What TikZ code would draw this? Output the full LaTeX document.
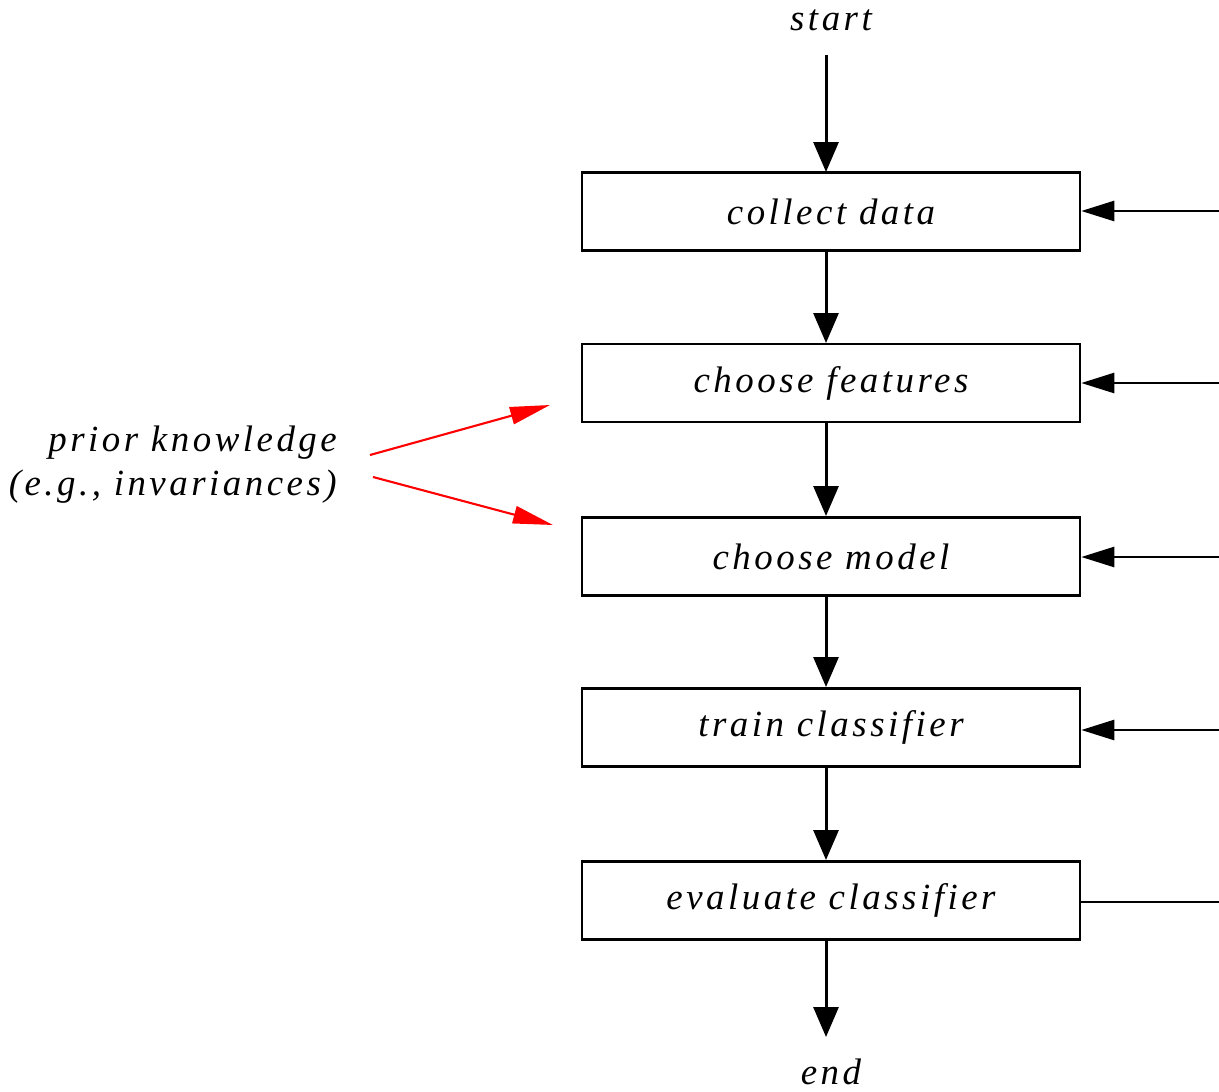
\documentclass[tikz,border=0pt]{standalone}
\usepackage{fontspec}
\setmainfont{Liberation Serif}[LetterSpace=9.5]
\usetikzlibrary{arrows.meta}
\begin{document}
\begin{tikzpicture}[x=0.02cm,y=-0.02cm,
  every node/.style={font=\fontsize{21}{25}\selectfont\itshape},
  stepbox/.style={draw,line width=1.5pt,minimum width=9.96cm,minimum height=1.56cm,inner sep=0pt},
  flow/.style={line width=1.7pt,-{Triangle[length=0.6cm,width=0.5cm]}},
  back/.style={line width=1.5pt,-{Triangle[length=0.66cm,width=0.4cm]}},
  prior/.style={red,line width=1.2pt,-{Triangle[length=0.8cm,width=0.35cm]}}]
\useasboundingbox (0,0) rectangle (1219,1091);
\node (start) at (831,20) {start};
\node[stepbox] (b1) at (831,211.5) {collect data};
\node[stepbox] (b2) at (831,383) {choose features};
\node[stepbox] (b3) at (831,556.5) {choose model};
\node[stepbox] (b4) at (831,727.5) {train classifier};
\node[stepbox] (b5) at (831,900.5) {evaluate classifier};
\node (end) at (831,1072) {end};
\node[align=right,anchor=east] (pk) at (343,465) {prior knowledge\\(e.g., invariances)};
\coordinate (s0) at (826,55);
\coordinate (e0) at (826,1037);
\draw[flow] (s0) -- (826,172);
\draw[flow] (826,251) -- (826,343);
\draw[flow] (826,422) -- (826,516);
\draw[flow] (826,597) -- (826,687);
\draw[flow] (826,767) -- (826,860);
\draw[flow] (826,941) -- (e0);
\coordinate (r1) at (1219,211);
\coordinate (r2) at (1219,383);
\coordinate (r3) at (1219,557);
\coordinate (r4) at (1219,730);
\coordinate (r5) at (1219,902);
\draw[back] (r1) -- (b1.east |- r1);
\draw[back] (r2) -- (b2.east |- r2);
\draw[back] (r3) -- (b3.east |- r3);
\draw[back] (r4) -- (b4.east |- r4);
\draw[line width=1.5pt] (b5.east |- r5) -- (r5);
\draw[prior] (370,455) -- (550,405);
\draw[prior] (373,477) -- (553,525);
\end{tikzpicture}
\end{document}
